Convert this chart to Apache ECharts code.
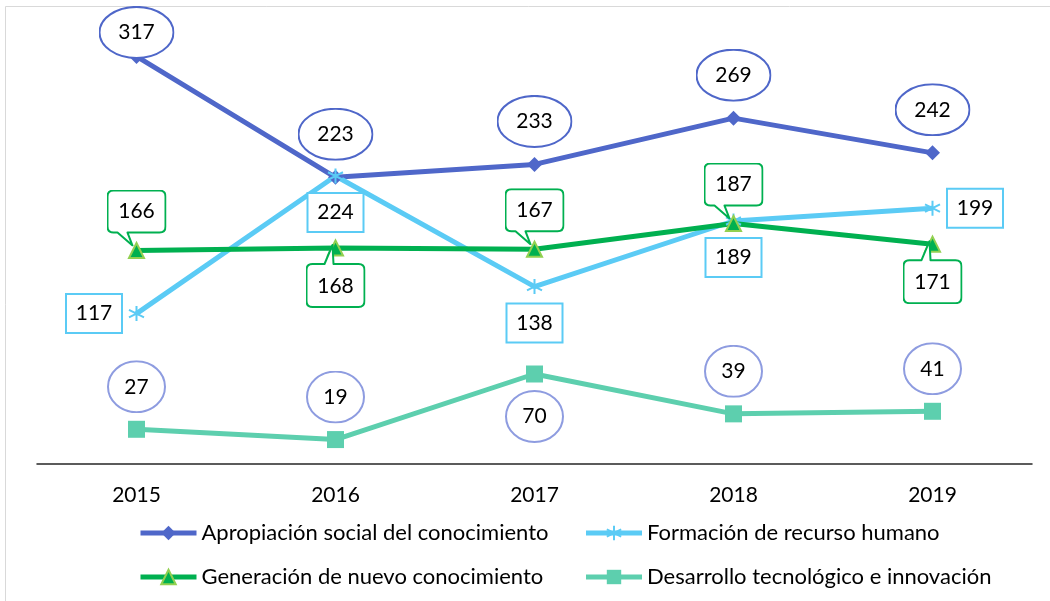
<!DOCTYPE html>
<html>
<head>
<meta charset="utf-8">
<script src="https://cdn.jsdelivr.net/npm/echarts@6/dist/echarts.min.js"></script>
<style>
  html, body { margin: 0; padding: 0; background: #fff; }
  #chart { width: 1050px; height: 601px; }
</style>
</head>
<body>
<div id="chart"></div>
<script>
// datos
const years = ['2015', '2016', '2017', '2018', '2019'];
const apropiacion = [317, 223, 233, 269, 242];
const formacion = [117, 224, 138, 189, 199];
const generacion = [166, 168, 167, 187, 171];
const desarrollo = [27, 19, 70, 39, 41];
const names = [
    'Apropiación social del conocimiento',
    'Formación de recurso humano',
    'Generación de nuevo conocimiento',
    'Desarrollo tecnológico e innovación'
];

// donde va cada etiqueta
const apropiacionPos = ['top', 'top', 'top', 'top', 'top'];
const formacionPos = ['left', 'bottom', 'bottom', 'bottom', 'right'];
const generacionPos = ['top', 'bottom', 'top', 'top', 'bottom'];
const desarrolloPos = ['top', 'top', 'bottom', 'top', 'top'];

const font = 'Lato, "Liberation Sans", sans-serif';
const colors = ['#4F67C9', '#5BCBF5', '#00B050', '#5DCFAE'];

function svgUri(svg) {
    return 'data:image/svg+xml;charset=utf-8,' + encodeURIComponent(svg);
}
const ellipseDark = svgUri('<svg xmlns="http://www.w3.org/2000/svg" width="76" height="53"><ellipse cx="38" cy="26.5" rx="37" ry="25.5" fill="#fff" stroke="#4F67C9" stroke-width="2"/></svg>');
const ellipseLight = svgUri('<svg xmlns="http://www.w3.org/2000/svg" width="59" height="53"><ellipse cx="29.5" cy="26.5" rx="28.5" ry="25.5" fill="#fff" stroke="#8E9CE0" stroke-width="2"/></svg>');
// globo con la cola abajo
const bubbleUp = svgUri('<svg xmlns="http://www.w3.org/2000/svg" width="60" height="57"><path d="M7,1 H53 Q59,1 59,7 V37 Q59,43 53,43 H21 L26,56 L11,43 H7 Q1,43 1,37 V7 Q1,1 7,1 Z" fill="#fff" stroke="#00B050" stroke-width="2" stroke-linejoin="round"/></svg>');
// globo con la cola arriba
const bubbleDown = svgUri('<svg xmlns="http://www.w3.org/2000/svg" width="60" height="64"><path d="M7,20 H19 L27,1 L28,20 H53 Q59,20 59,26 V57 Q59,63 53,63 H7 Q1,63 1,57 V26 Q1,20 7,20 Z" fill="#fff" stroke="#00B050" stroke-width="2" stroke-linejoin="round"/></svg>');

const baseLabel = {
    show: true,
    color: '#000',
    fontFamily: font,
    fontSize: 21
};

function ellipseLabel(pos, img, w, i) {
    let dist = img === ellipseDark ? 9 : 7.5;
    if (img === ellipseDark && i === 0) dist = -10; // pegado al borde superior
    return Object.assign({}, baseLabel, {
        position: pos,
        distance: dist,
        width: w,
        height: 53,
        lineHeight: 53,
        align: 'center',
        backgroundColor: { image: img }
    });
}

function rectLabel(pos) {
    let l = Object.assign({}, baseLabel, {
        position: pos,
        distance: pos === 'bottom' ? 9.5 : 7,
        width: 54,
        height: 37,
        lineHeight: 37,
        align: 'center',
        backgroundColor: '#fff',
        borderColor: '#5BCBF5',
        borderWidth: 2
    });
    if (pos === 'left') l.offset = [-27, 0];
    if (pos === 'right') l.offset = [27, 0];
    return l;
}

function bubbleLabel(pos) {
    if (pos === 'top') {
        return Object.assign({}, baseLabel, {
            position: 'top', distance: -4.5,
            width: 60, height: 44, lineHeight: 44, padding: [0, 0, 13, 0],
            align: 'center',
            backgroundColor: { image: bubbleUp }
        });
    }
    return Object.assign({}, baseLabel, {
        position: 'bottom', distance: -12.5,
        width: 60, height: 44, lineHeight: 44, padding: [20, 0, 0, 0],
        align: 'center',
        backgroundColor: { image: bubbleDown }
    });
}

const asterisk = 'path://M0,-10L0,10M-8.66,-5L8.66,5M-8.66,5L8.66,-5';

const chart = echarts.init(document.getElementById('chart'));
chart.setOption({
    backgroundColor: '#fff',
    animation: false,
    textStyle: { fontFamily: font },
    graphic: [{
        type: 'rect',
        shape: { x: 5.5, y: 6.5, width: 1100, height: 700 },
        style: { fill: 'none', stroke: '#D9D9D9', lineWidth: 1 },
        silent: true
    }],
    grid: { left: 37, right: 18, top: 14, bottom: 137 },
    xAxis: {
        type: 'category',
        data: years,
        axisLine: { lineStyle: { color: '#262626', width: 1.5 } },
        axisTick: { show: false },
        axisLabel: { color: '#000', fontSize: 21, fontFamily: font, margin: 21 }
    },
    yAxis: {
        type: 'value',
        min: 0,
        max: 350,
        show: false,
        splitLine: { show: false }
    },
    legend: {
        left: 138,
        top: 516,
        width: 960,
        padding: 0,
        itemWidth: 56,
        itemHeight: 18,
        itemGap: 10,
        lineStyle: { width: 5 },
        textStyle: { color: '#000', fontSize: 22, fontFamily: font, width: 372, lineHeight: 34 },
        data: names
    },
    series: [
        {
            name: names[0],
            type: 'line',
            data: apropiacion.map((v, i) => ({ value: v, label: ellipseLabel(apropiacionPos[i], ellipseDark, 76, i) })),
            symbol: 'diamond',
            symbolSize: 15,
            lineStyle: { color: colors[0], width: 5 },
            itemStyle: { color: colors[0] }
        },
        {
            name: names[1],
            type: 'line',
            data: formacion.map((v, i) => ({ value: v, label: rectLabel(formacionPos[i]) })),
            symbol: asterisk,
            symbolSize: 15,
            lineStyle: { color: colors[1], width: 5 },
            itemStyle: { color: colors[1], borderColor: colors[1], borderWidth: 2 }
        },
        {
            name: names[2],
            type: 'line',
            data: generacion.map((v, i) => ({ value: v, label: bubbleLabel(generacionPos[i]) })),
            symbol: 'triangle',
            symbolSize: 15,
            lineStyle: { color: colors[2], width: 5 },
            itemStyle: { color: colors[2], borderColor: '#92D050', borderWidth: 2 }
        },
        {
            name: names[3],
            type: 'line',
            data: desarrollo.map((v, i) => ({ value: v, label: ellipseLabel(desarrolloPos[i], ellipseLight, 59, i) })),
            symbol: 'rect',
            symbolSize: 17,
            lineStyle: { color: colors[3], width: 5 },
            itemStyle: { color: colors[3] }
        }
    ]
});
</script>
</body>
</html>
